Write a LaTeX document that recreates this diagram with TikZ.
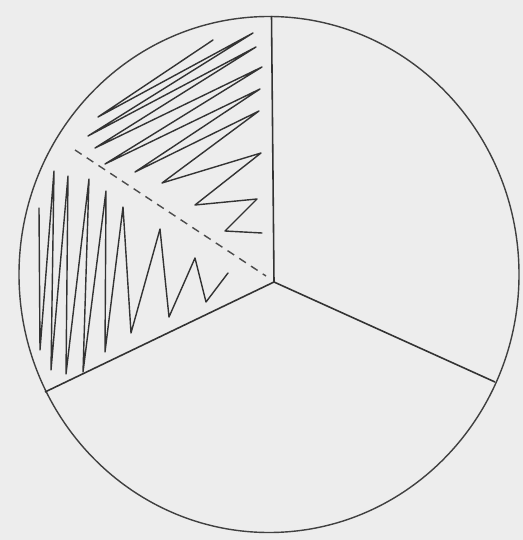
\documentclass[tikz,border=0pt]{standalone}
\usepackage{tikz}

\begin{document}
\begin{tikzpicture}[x=0.02cm,y=-0.02cm,
  rim/.style={draw=black!75,line width=0.8pt},
  spoke/.style={draw=black!80,line width=0.9pt},
  split/.style={draw=black!70,line width=0.8pt,dash pattern=on 4.5pt off 3.5pt},
  zig/.style={draw=black!80,line width=0.8pt,line join=round,line cap=round}]
  \useasboundingbox[fill=black!7] (0,0) rectangle (523,540);
  \coordinate (O) at (274,282);
  \coordinate (top) at (271.5,16);
  \coordinate (right) at (495,382);
  \coordinate (left) at (45,392);
  \coordinate (cut) at (75,150);
  \coordinate (cutend) at (266,276);
  \draw[rim] (269,274.5) ellipse [x radius=250, y radius=258];
  \draw[spoke] (top) -- (O) -- (right);
  \draw[spoke] (O) -- (left);
  \draw[split] (cut) -- (cutend);
  % upper half of the sector
  \draw[zig] plot coordinates {(213,40) (98,117) (253,33) (88,136) (256,47) (95,148)
     (262,67) (105,164) (260,89) (135,172) (259,111) (162,183) (261,153) (195,205)
     (257,199) (225,231) (262,233)};
  % lower half of the sector
  \draw[zig] plot coordinates {(39,208) (40,350) (54,171) (51,370) (68,176) (66,374)
     (89,179) (83,372) (106,191) (105,352) (123,207) (131,333) (160,229) (169,317)
     (195,258) (206,302) (228,273)};
\end{tikzpicture}
\end{document}
